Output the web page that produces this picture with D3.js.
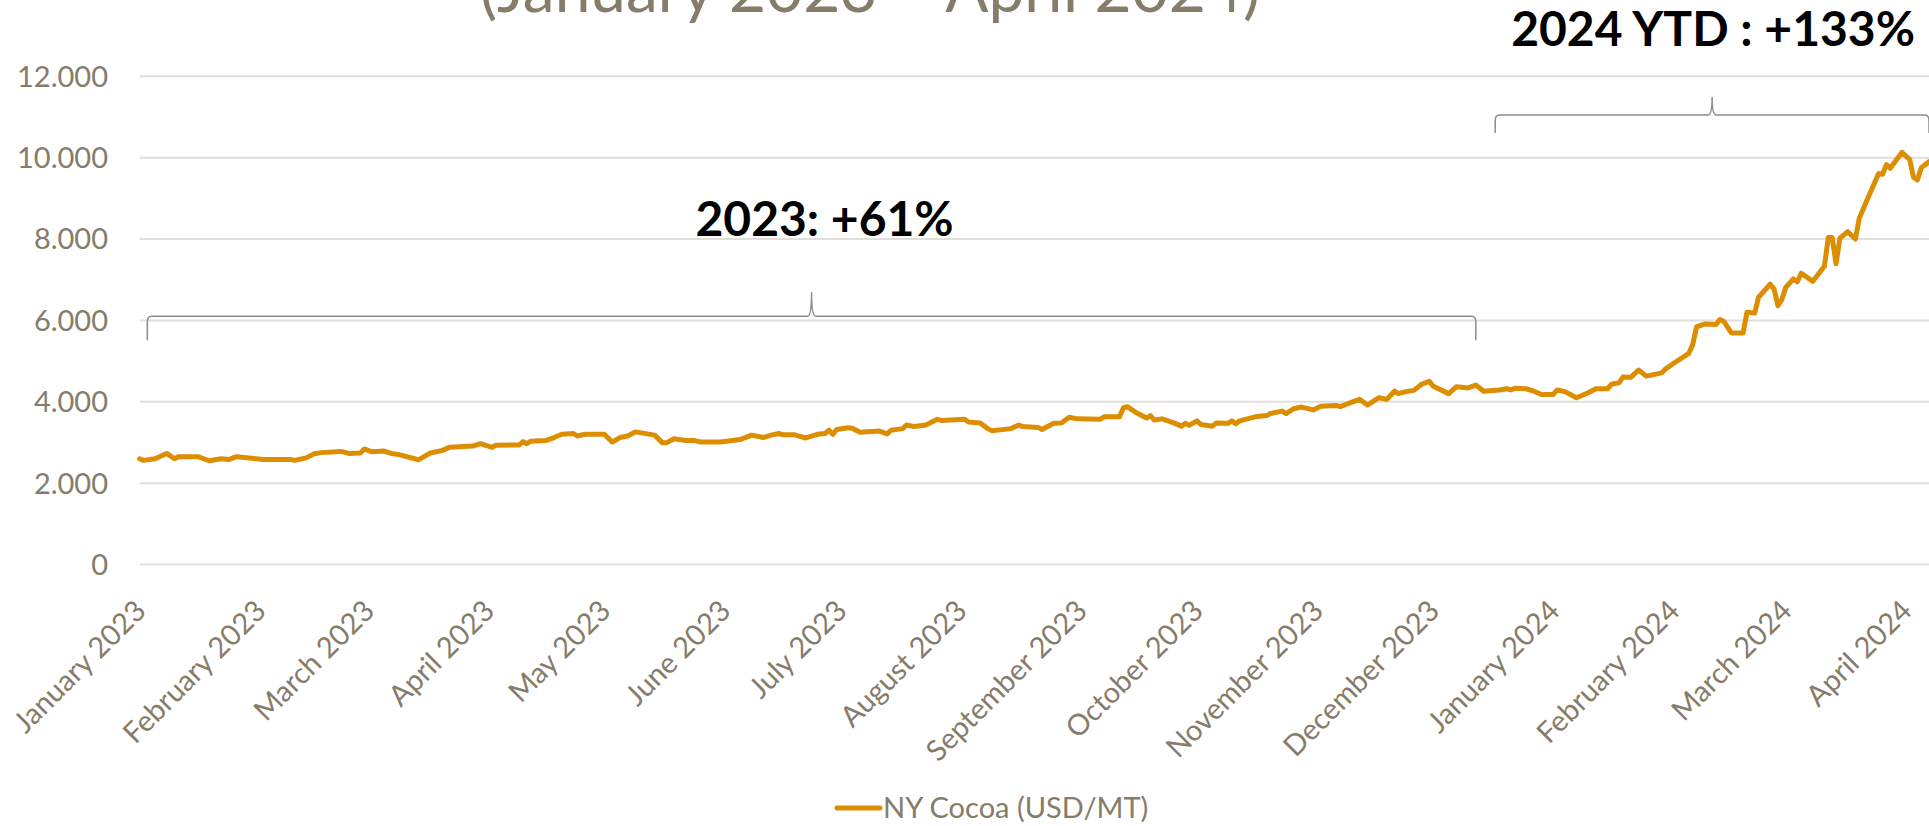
<!DOCTYPE html>
<html>
<head>
<meta charset="utf-8">
<script src="https://cdn.jsdelivr.net/npm/d3@7"></script>
<style>
  body { margin: 0; background: #fff; }
  text { font-family: Lato, "Open Sans", sans-serif; }
  .tick-label { fill: #857c6a; font-size: 29px; }
</style>
</head>
<body>
<svg id="chart" width="1929" height="826"></svg>
<script>
// NY cocoa
var dates = [
  "2023-01-03","2023-01-04","2023-01-07","2023-01-10","2023-01-12","2023-01-13","2023-01-18","2023-01-21","2023-01-24","2023-01-26","2023-01-28",
  "2023-02-01","2023-02-04","2023-02-11","2023-02-12","2023-02-15","2023-02-17","2023-02-19","2023-02-24","2023-02-26",
  "2023-03-01","2023-03-02","2023-03-04","2023-03-07","2023-03-09","2023-03-11","2023-03-15","2023-03-16","2023-03-19","2023-03-22","2023-03-24","2023-03-30",
  "2023-04-01","2023-04-04","2023-04-05","2023-04-11","2023-04-12","2023-04-13","2023-04-14","2023-04-18","2023-04-20","2023-04-22","2023-04-25","2023-04-26","2023-04-28",
  "2023-05-03","2023-05-05","2023-05-07","2023-05-09","2023-05-11","2023-05-16","2023-05-18","2023-05-19","2023-05-21","2023-05-24","2023-05-26","2023-05-28",
  "2023-06-02","2023-06-07","2023-06-10","2023-06-13","2023-06-15","2023-06-17","2023-06-18","2023-06-21","2023-06-22","2023-06-24","2023-06-27","2023-06-29","2023-06-30",
  "2023-07-01","2023-07-02","2023-07-05","2023-07-06","2023-07-08","2023-07-13","2023-07-15","2023-07-16","2023-07-19","2023-07-20","2023-07-22","2023-07-25","2023-07-28","2023-07-29",
  "2023-08-04","2023-08-05","2023-08-08","2023-08-10","2023-08-11","2023-08-16","2023-08-18","2023-08-19","2023-08-23","2023-08-24","2023-08-27","2023-08-29","2023-08-31",
  "2023-09-02","2023-09-08","2023-09-09","2023-09-13","2023-09-14","2023-09-15","2023-09-17","2023-09-20","2023-09-21","2023-09-22","2023-09-24","2023-09-27","2023-09-29","2023-09-30",
  "2023-10-01","2023-10-03","2023-10-04","2023-10-07","2023-10-08","2023-10-11","2023-10-12","2023-10-13","2023-10-14","2023-10-18","2023-10-21","2023-10-22","2023-10-25","2023-10-26","2023-10-28","2023-10-30",
  "2023-11-02","2023-11-04","2023-11-08","2023-11-09","2023-11-12","2023-11-14","2023-11-16","2023-11-19","2023-11-21","2023-11-23","2023-11-24","2023-11-26","2023-11-28","2023-11-30",
  "2023-12-02","2023-12-03","2023-12-07","2023-12-09","2023-12-12","2023-12-14","2023-12-16","2023-12-20","2023-12-22","2023-12-23","2023-12-24","2023-12-27","2023-12-29","2023-12-31",
  "2024-01-03","2024-01-04","2024-01-06","2024-01-09","2024-01-12","2024-01-14","2024-01-17","2024-01-18","2024-01-20","2024-01-21","2024-01-23","2024-01-25","2024-01-27","2024-01-31",
  "2024-02-01","2024-02-03","2024-02-07","2024-02-08","2024-02-09","2024-02-11","2024-02-14","2024-02-15","2024-02-16","2024-02-18","2024-02-21","2024-02-22","2024-02-24","2024-02-25","2024-02-28","2024-02-29",
  "2024-03-01","2024-03-02","2024-03-03","2024-03-05","2024-03-06","2024-03-07","2024-03-10","2024-03-13","2024-03-14","2024-03-15","2024-03-16","2024-03-17","2024-03-19","2024-03-21","2024-03-22","2024-03-24","2024-03-27","2024-03-28","2024-03-29","2024-03-30",
  "2024-04-02","2024-04-04","2024-04-05","2024-04-06","2024-04-07","2024-04-09"
];
var prices = [
  2600,2560,2600,2730,2600,2650,2650,2550,2600,2580,2650,
  2610,2580,2580,2560,2620,2720,2750,2780,2730,
  2740,2840,2770,2790,2730,2700,2600,2570,2740,2800,2880,2910,
  2970,2880,2930,2940,3020,2970,3030,3050,3120,3200,3220,3160,3200,
  3200,3010,3120,3160,3260,3180,2990,2990,3090,3050,3050,3010,
  3010,3070,3180,3120,3180,3220,3190,3190,3160,3110,3200,3220,3300,
  3200,3320,3360,3350,3250,3280,3210,3300,3340,3430,3390,3430,3570,3540,
  3570,3500,3480,3340,3290,3340,3430,3390,3370,3320,3470,3480,3620,
  3580,3570,3630,3630,3850,3880,3750,3600,3660,3550,3580,3480,3400,3470,
  3420,3530,3440,3400,3480,3470,3530,3460,3530,3630,3660,3710,3770,3710,3830,3870,
  3800,3890,3910,3880,3990,4060,3920,4100,4060,4260,4200,4250,4280,4430,
  4500,4380,4200,4370,4340,4410,4260,4290,4320,4290,4330,4320,4260,4180,
  4180,4290,4250,4100,4220,4320,4320,4430,4470,4610,4600,4780,4630,4710,
  4810,4940,5190,5410,5840,5910,5900,6020,5980,5690,5690,6200,6180,6570,6890,6770,
  6360,6510,6810,7020,6950,7160,6960,7330,8040,8040,7390,8020,8180,8000,8510,8960,9610,9590,9830,9740,
  10130,9960,9520,9450,9750,9900
];
var yTicks = [0, 2000, 4000, 6000, 8000, 10000, 12000];
var seriesName = "NY Cocoa (USD/MT)";
var titleText = "(January 2023 \u2013 April 2024)";

// bracket annotations
var braceLabels = ["2023: +61%", "2024 YTD : +133%"];
var braceFrom = ["2023-01-05", "2023-12-19"];
var braceTo = ["2023-12-14", "2024-04-09"];
var braceLevel = [6100, 11050];

var W = 1929, H = 826,
    plotLeft = 139.6, plotRight = 1929, plotTop = 76.3, plotBottom = 564.5;
var orange = "#dc8d00", grey = "#857c6a";

var parse = d3.timeParse("%Y-%m-%d");
var data = dates.map(function(d, i) { return { date: parse(d), price: prices[i] }; });

var x = d3.scaleTime()
    .domain([parse("2023-01-03"), parse("2024-04-09")])
    .range([plotLeft, plotRight]);
var y = d3.scaleLinear().domain([0, 12000]).range([plotBottom, plotTop]);

var fmt = d3.formatLocale({ decimal: ",", thousands: ".", grouping: [3], currency: ["", ""] }).format(",");

var svg = d3.select("#chart");
svg.append("rect").attr("width", W).attr("height", H).attr("fill", "#fff");

// title (cut off at the top in the reference)
svg.append("text")
    .attr("x", 870).attr("y", 12)
    .attr("text-anchor", "middle")
    .attr("fill", grey)
    .style("font-size", "64px")
    .text(titleText);

// gridlines + y labels
var yAxis = svg.append("g");
yAxis.selectAll("line").data(yTicks).enter().append("line")
    .attr("x1", plotLeft).attr("x2", W)
    .attr("y1", function(d) { return y(d); })
    .attr("y2", function(d) { return y(d); })
    .attr("stroke", "#e0dfd8").attr("stroke-width", 2);
yAxis.selectAll("text").data(yTicks).enter().append("text")
    .attr("class", "tick-label")
    .attr("x", 108)
    .attr("y", function(d) { return y(d); })
    .attr("dy", "0.36em")
    .attr("text-anchor", "end")
    .text(function(d) { return fmt(d); });

// month labels, rotated
var tickDates = d3.timeMonth.range(parse("2023-01-01"), parse("2024-04-02"))
    .map(function(d) { return d3.timeDay.offset(d, 2); });
var monthFmt = d3.timeFormat("%B %Y");
svg.append("g").selectAll("text").data(tickDates).enter().append("text")
    .attr("class", "tick-label")
    .attr("text-anchor", "end")
    .attr("transform", function(d) { return "translate(" + (x(d) + 8) + "," + (plotBottom + 48) + ") rotate(-45)"; })
    .text(function(d) { return monthFmt(d); });

// the series
var line = d3.line()
    .x(function(d) { return x(d.date); })
    .y(function(d) { return y(d.price); });
svg.append("path")
    .datum(data)
    .attr("d", line)
    .attr("fill", "none")
    .attr("stroke", orange)
    .attr("stroke-width", 5)
    .attr("stroke-linejoin", "round")
    .attr("stroke-linecap", "round");

// curly brackets
var braceDrop = [24, 18];
var labelDx = [13, 1], labelRise = [80, 69];
function bracePath(x0, x1, yh, dd) {
  var xm = (x0 + x1) / 2;
  return "M" + x0 + "," + (yh + dd) +
    " L" + x0 + "," + (yh + 6) +
    " Q" + x0 + "," + yh + " " + (x0 + 4) + "," + yh +
    " L" + (xm - 4) + "," + yh +
    " Q" + xm + "," + yh + " " + xm + "," + (yh - dd) +
    " Q" + xm + "," + yh + " " + (xm + 4) + "," + yh +
    " L" + (x1 - 4) + "," + yh +
    " Q" + x1 + "," + yh + " " + x1 + "," + (yh + 6) +
    " L" + x1 + "," + (yh + dd);
}
braceLabels.forEach(function(lbl, i) {
  var x0 = x(parse(braceFrom[i])), x1 = x(parse(braceTo[i])), yh = y(braceLevel[i]);
  svg.append("path")
      .attr("d", bracePath(x0, x1, yh, braceDrop[i]))
      .attr("fill", "none")
      .attr("stroke", "#8c8c8c")
      .attr("stroke-width", 1.5);
  svg.append("text")
      .attr("x", (x0 + x1) / 2 + labelDx[i])
      .attr("y", yh - labelRise[i])
      .attr("text-anchor", "middle")
      .attr("fill", "#000")
      .style("font-size", "48px")
      .style("font-weight", "bold")
      .text(lbl);
});

// legend
var lg = svg.append("g").attr("transform", "translate(837,808)");
lg.append("line").attr("x1", 0).attr("x2", 43)
    .attr("stroke", orange).attr("stroke-width", 5).attr("stroke-linecap", "round");
lg.append("text").attr("class", "tick-label")
    .attr("x", 46).attr("dy", "0.35em")
    .text(seriesName);
</script>
</body>
</html>
